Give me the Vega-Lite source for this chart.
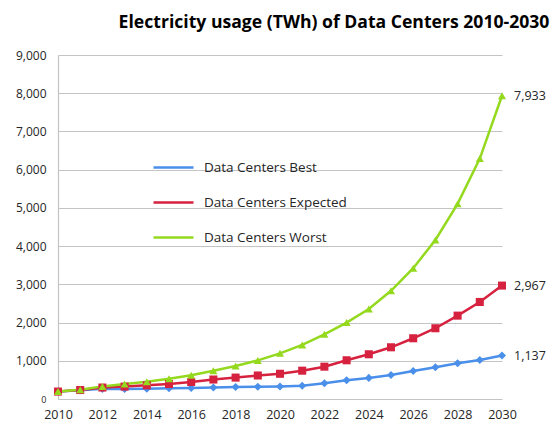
{
  "$schema": "https://vega.github.io/schema/vega-lite/v6.json",
  "width": 444,
  "height": 344,
  "autosize": {"type": "none"},
  "padding": {"left": 58, "top": 55, "right": 50, "bottom": 27},
  "background": "white",
  "title": {
    "text": "Electricity usage (TWh) of Data Centers 2010-2030",
    "font": "Open Sans",
    "fontSize": 17.6,
    "fontWeight": "bold",
    "color": "#000000",
    "anchor": "middle",
    "dx": 54,
    "offset": 17
  },
  "config": {
    "view": {"stroke": null},
    "font": "Open Sans"
  },
  "resolve": {"legend": {"color": "independent", "shape": "independent"}},
  "data": {
    "values": [
      {"year": 2010, "series": "Data Centers Best", "value": 195},
      {"year": 2011, "series": "Data Centers Best", "value": 230},
      {"year": 2012, "series": "Data Centers Best", "value": 265},
      {"year": 2013, "series": "Data Centers Best", "value": 262},
      {"year": 2014, "series": "Data Centers Best", "value": 270},
      {"year": 2015, "series": "Data Centers Best", "value": 280},
      {"year": 2016, "series": "Data Centers Best", "value": 290},
      {"year": 2017, "series": "Data Centers Best", "value": 302},
      {"year": 2018, "series": "Data Centers Best", "value": 312},
      {"year": 2019, "series": "Data Centers Best", "value": 322},
      {"year": 2020, "series": "Data Centers Best", "value": 328},
      {"year": 2021, "series": "Data Centers Best", "value": 345},
      {"year": 2022, "series": "Data Centers Best", "value": 410},
      {"year": 2023, "series": "Data Centers Best", "value": 489},
      {"year": 2024, "series": "Data Centers Best", "value": 552},
      {"year": 2025, "series": "Data Centers Best", "value": 628},
      {"year": 2026, "series": "Data Centers Best", "value": 733},
      {"year": 2027, "series": "Data Centers Best", "value": 830},
      {"year": 2028, "series": "Data Centers Best", "value": 934},
      {"year": 2029, "series": "Data Centers Best", "value": 1021},
      {"year": 2030, "series": "Data Centers Best", "value": 1137},
      {"year": 2010, "series": "Data Centers Expected", "value": 195},
      {"year": 2011, "series": "Data Centers Expected", "value": 235},
      {"year": 2012, "series": "Data Centers Expected", "value": 300},
      {"year": 2013, "series": "Data Centers Expected", "value": 325},
      {"year": 2014, "series": "Data Centers Expected", "value": 358},
      {"year": 2015, "series": "Data Centers Expected", "value": 392},
      {"year": 2016, "series": "Data Centers Expected", "value": 445},
      {"year": 2017, "series": "Data Centers Expected", "value": 510},
      {"year": 2018, "series": "Data Centers Expected", "value": 560},
      {"year": 2019, "series": "Data Centers Expected", "value": 615},
      {"year": 2020, "series": "Data Centers Expected", "value": 660},
      {"year": 2021, "series": "Data Centers Expected", "value": 741},
      {"year": 2022, "series": "Data Centers Expected", "value": 846},
      {"year": 2023, "series": "Data Centers Expected", "value": 1013},
      {"year": 2024, "series": "Data Centers Expected", "value": 1170},
      {"year": 2025, "series": "Data Centers Expected", "value": 1353},
      {"year": 2026, "series": "Data Centers Expected", "value": 1589},
      {"year": 2027, "series": "Data Centers Expected", "value": 1851},
      {"year": 2028, "series": "Data Centers Expected", "value": 2181},
      {"year": 2029, "series": "Data Centers Expected", "value": 2539},
      {"year": 2030, "series": "Data Centers Expected", "value": 2967},
      {"year": 2010, "series": "Data Centers Worst", "value": 195},
      {"year": 2011, "series": "Data Centers Worst", "value": 240},
      {"year": 2012, "series": "Data Centers Worst", "value": 330},
      {"year": 2013, "series": "Data Centers Worst", "value": 390},
      {"year": 2014, "series": "Data Centers Worst", "value": 450},
      {"year": 2015, "series": "Data Centers Worst", "value": 530},
      {"year": 2016, "series": "Data Centers Worst", "value": 620},
      {"year": 2017, "series": "Data Centers Worst", "value": 740},
      {"year": 2018, "series": "Data Centers Worst", "value": 865},
      {"year": 2019, "series": "Data Centers Worst", "value": 1010},
      {"year": 2020, "series": "Data Centers Worst", "value": 1195},
      {"year": 2021, "series": "Data Centers Worst", "value": 1414},
      {"year": 2022, "series": "Data Centers Worst", "value": 1693},
      {"year": 2023, "series": "Data Centers Worst", "value": 2000},
      {"year": 2024, "series": "Data Centers Worst", "value": 2356},
      {"year": 2025, "series": "Data Centers Worst", "value": 2830},
      {"year": 2026, "series": "Data Centers Worst", "value": 3421},
      {"year": 2027, "series": "Data Centers Worst", "value": 4162},
      {"year": 2028, "series": "Data Centers Worst", "value": 5105},
      {"year": 2029, "series": "Data Centers Worst", "value": 6291},
      {"year": 2030, "series": "Data Centers Worst", "value": 7933}
    ]
  },
  "encoding": {
    "x": {
      "field": "year",
      "type": "quantitative",
      "scale": {"domain": [2010, 2030], "nice": false, "zero": false},
      "axis": {
        "title": null,
        "values": [2010, 2012, 2014, 2016, 2018, 2020, 2022, 2024, 2026, 2028, 2030],
        "format": "d",
        "grid": false,
        "domain": false,
        "ticks": false,
        "labelFont": "Open Sans",
        "labelFontSize": 12.5,
        "labelColor": "#262626",
        "labelPadding": 9,
        "labelFlush": false
      }
    },
    "y": {
      "field": "value",
      "type": "quantitative",
      "scale": {"domain": [0, 9000], "nice": false},
      "axis": {
        "title": null,
        "values": [0, 1000, 2000, 3000, 4000, 5000, 6000, 7000, 8000, 9000],
        "format": ",d",
        "grid": true,
        "gridColor": "#c4c4c4",
        "gridWidth": 1.2,
        "domain": true,
        "domainColor": "#c4c4c4",
        "domainWidth": 1.2,
        "ticks": false,
        "labelFont": "Open Sans",
        "labelFontSize": {"condition": {"test": "datum.value == 0", "value": 9}, "value": 12},
        "labelColor": "#262626",
        "labelPadding": 12
      }
    }
  },
  "layer": [
    {
      "mark": {"type": "line", "strokeWidth": 2.5},
      "encoding": {
        "color": {
          "field": "series",
          "type": "nominal",
          "scale": {
            "domain": ["Data Centers Best", "Data Centers Expected", "Data Centers Worst"],
            "range": ["#4a8fea", "#d6213f", "#94d91e"]
          },
          "legend": {
            "title": null,
            "orient": "none",
            "legendX": 94,
            "legendY": 91,
            "symbolType": "stroke",
            "symbolSize": 1600,
            "symbolStrokeWidth": 2.5,
            "rowPadding": 7,
            "labelFont": "Open Sans",
            "labelFontSize": 13.5,
            "labelColor": "#262626",
            "labelOffset": 9
          }
        }
      }
    },
    {
      "mark": {"type": "point", "filled": true, "opacity": 1, "size": 65},
      "encoding": {
        "color": {"field": "series", "type": "nominal", "legend": null},
        "shape": {
          "field": "series",
          "type": "nominal",
          "scale": {
            "domain": ["Data Centers Best", "Data Centers Expected", "Data Centers Worst"],
            "range": ["diamond", "square", "triangle-up"]
          },
          "legend": null
        }
      }
    },
    {
      "transform": [{"filter": "datum.year == 2030"}],
      "mark": {"type": "text", "align": "left", "baseline": "middle", "dx": 12, "fontSize": 12.5, "font": "Open Sans", "color": "#262626"},
      "encoding": {
        "text": {"field": "value", "type": "quantitative", "format": ",d"}
      }
    }
  ]
}
